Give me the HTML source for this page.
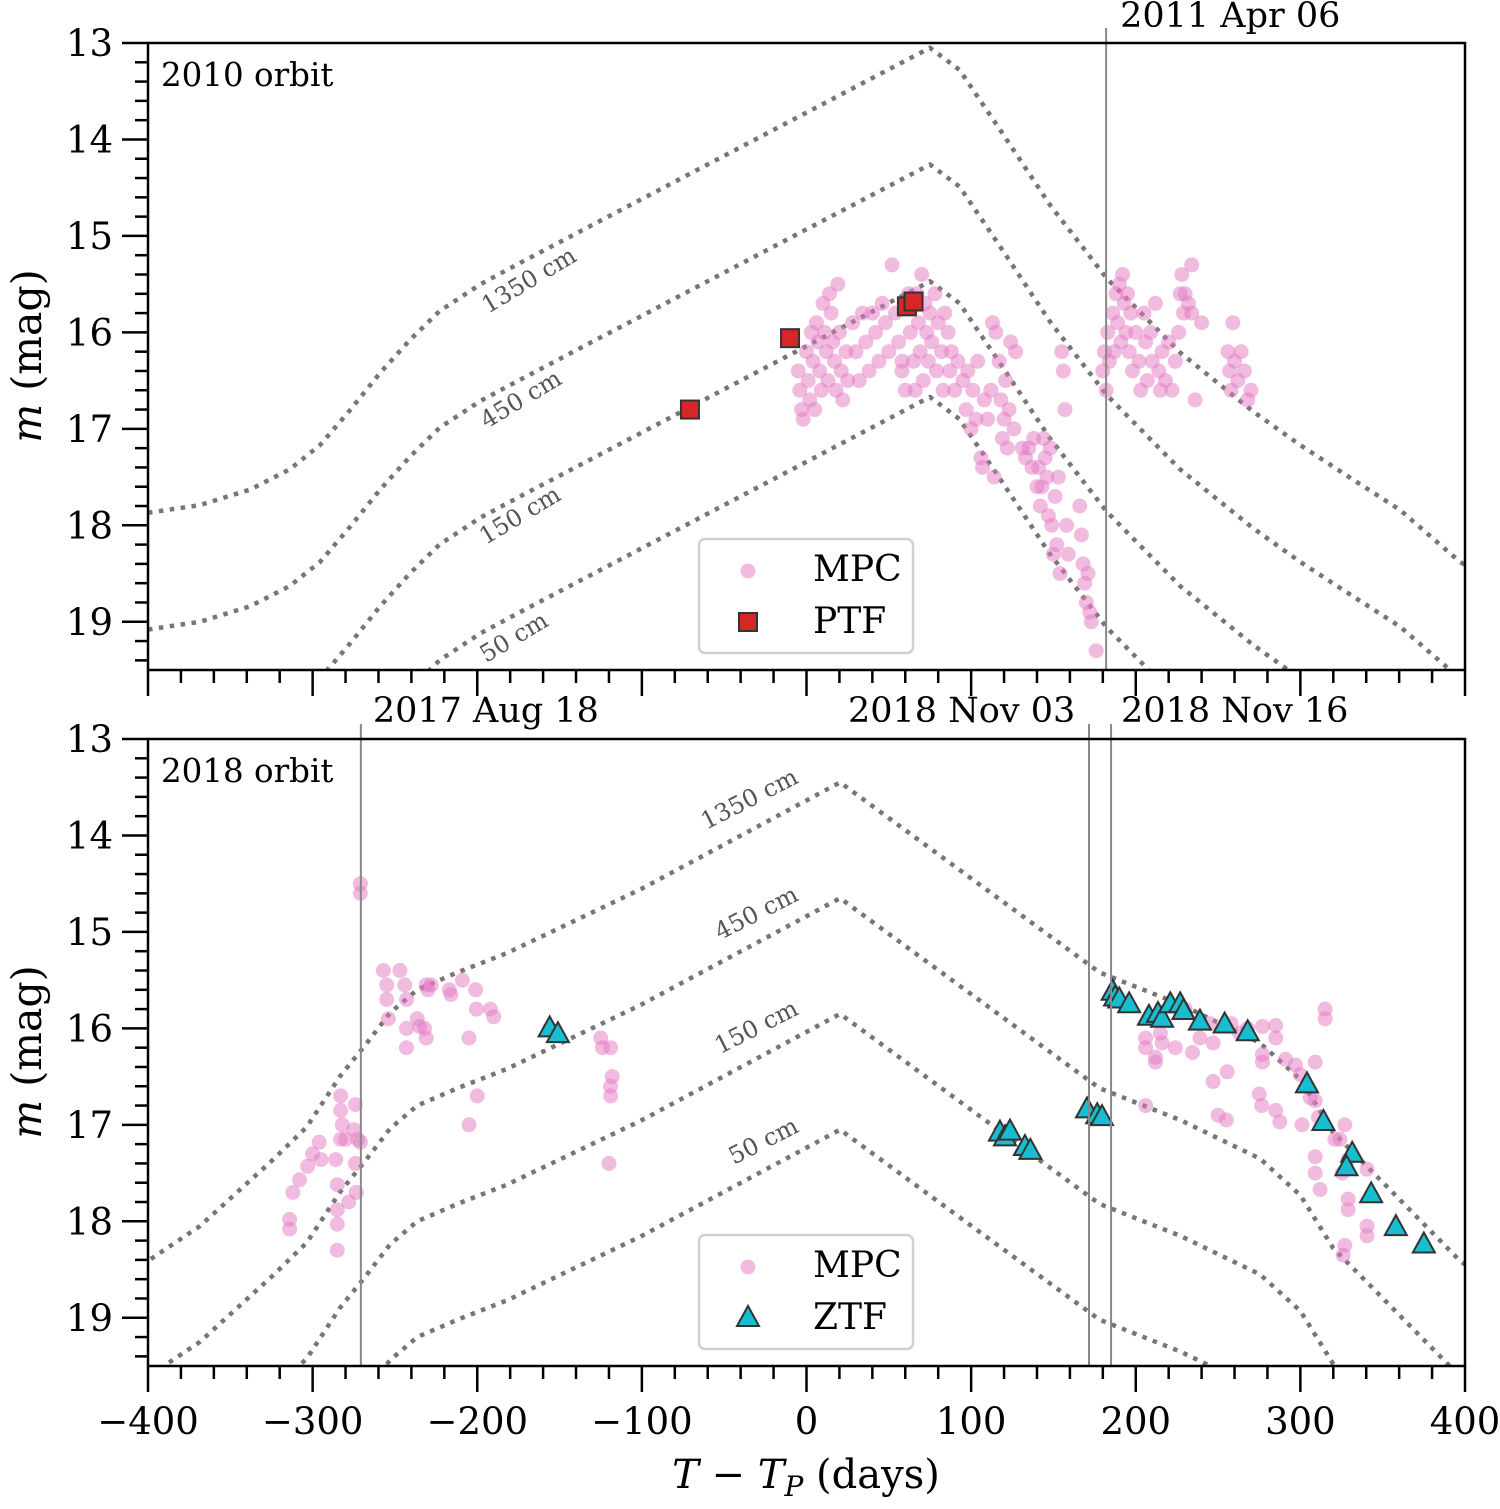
<!DOCTYPE html>
<html><head><meta charset="utf-8"><style>
html,body{margin:0;padding:0;background:#fff;overflow:hidden;width:1500px;height:1509px}
svg{display:block;font-family:"DejaVu Serif","Liberation Serif",serif;overflow:hidden}
</style></head><body>
<svg id="chart" xmlns="http://www.w3.org/2000/svg" width="1500" height="1509" viewBox="0 0 1500 1509">
<defs>
<clipPath id="clipTop"><rect x="148" y="43" width="1317" height="627"/></clipPath>
<clipPath id="clipBot"><rect x="148" y="739" width="1317" height="627"/></clipPath>
</defs>
<rect width="1500" height="1509" fill="#fff"/>
<g id="top"></g>
<g id="bot"></g>
</svg>
<script>
// ---- data ----
const xTicks = [-400,-300,-200,-100,0,100,200,300,400];
const xTickLabels = ["\u2212400","\u2212300","\u2212200","\u2212100","0","100","200","300","400"];
const yTicks = [13,14,15,16,17,18,19];
const sizeLabels = ["1350 cm","450 cm","150 cm","50 cm"];
const topOffsets = [0,1.21,2.42,3.62];
const botOffsets = [0,1.2,2.4,3.6];
const topCurveDays = [-400,-368.5,-338,-314,-295.6,-277,-259,-241,-223,-198,-174,75,93,117.6,148,182.4,227,271.3,300,330.5,360.5,397,420];
const topCurveMags = [17.87,17.79,17.63,17.42,17.17,16.80,16.42,16.08,15.78,15.50,15.28,13.05,13.28,13.90,14.68,15.44,16.21,16.82,17.17,17.51,17.84,18.38,18.6];
const botCurveDays = [-410,-400,-368.5,-324,-303.5,-283.5,-267,-253,-236.5,-212,-182,-101,20.4,178,227,275.5,300,320,348.5,397,420];
const botCurveMags = [18.5,18.41,18.05,17.36,17.02,16.50,16.15,15.84,15.60,15.42,15.22,14.56,13.45,15.42,15.75,16.15,16.53,17.08,17.57,18.41,18.7];
const topVLines = [182];
const topVLabels = ["2011 Apr 06"];
const botVLines = [-270.7,171.6,185];
const botVLabels = ["2017 Aug 18","2018 Nov 03","2018 Nov 16"];
const topMPC = [[-5,16.4],[-4,16.6],[-3,16.8],[-2,16.9],[0,16.2],[1,16.5],[2,16.7],[3,16.0],[4,16.3],[5,16.8],[6,15.9],[7,16.1],[8,16.4],[9,16.6],[10,15.7],[11,16.0],[12,16.2],[13,16.5],[14,15.6],[15,15.8],[16,16.1],[17,16.3],[18,16.6],[19,15.5],[20,16.0],[21,16.4],[22,16.7],[24,16.2],[25,16.5],
[28,15.9],[30,16.2],[32,16.5],[34,15.8],[36,16.1],[38,16.4],[40,15.8],[42,16.0],[44,16.3],[46,15.7],[48,15.9],[50,16.2],[52,15.3],[54,15.8],[56,16.1],[58,16.3],[60,16.6],[62,15.6],[58,16.4],
[63,16.0],[65,16.3],[66,16.6],[67,15.6],[68,15.9],[69,16.2],[70,15.4],[71,16.5],[72,15.7],[73,16.0],[74,16.3],[75,15.8],[76,16.1],[78,15.6],[79,16.4],[80,15.9],[82,16.2],[83,16.6],[84,15.8],[86,16.0],[87,16.4],[88,16.2],[90,16.6],[92,16.3],
[95,16.5],[97,16.8],[98,16.4],[100,17.0],[101,16.6],[103,16.9],[104,16.3],[106,17.3],[107,17.4],[108,16.7],[110,16.9],[112,16.6],[113,15.9],[114,17.5],[115,16.0],[117,16.3],[118,16.7],[119,17.1],[120,16.9],[121,16.5],[122,17.2],[123,16.8],[124,16.1],[126,17.0],[127,16.2],
[131,17.2],[133,17.3],[135,17.2],[137,17.4],[138,17.1],[140,17.6],[141,17.4],[142,17.8],[143,17.6],[144,17.1],[145,17.3],[146,17.5],[147,17.9],[148,17.2],[149,18.0],[150,18.3],[151,17.7],[152,18.2],[153,17.5],[154,18.5],[155,16.2],[156,16.4],[157,16.8],[158,18.0],[159,18.3],
[166,17.8],[167,18.1],[168,18.4],[169,18.6],[170,18.8],[171,18.5],[172,18.9],[173,19.0],[176,19.3],
[180,16.4],[181,16.2],[182,16.6],[183,16.0],[184,16.3],[186,15.8],[187,16.2],[188,15.6],[189,15.9],[190,15.5],[191,16.1],[192,15.4],[193,15.7],[194,16.0],[195,15.6],[196,16.2],[197,15.8],[198,16.4],[200,16.0],[202,16.3],[203,16.6],[205,15.8],[206,16.1],[207,16.5],[209,16.0],[210,16.3],[212,15.7],[214,16.4],[215,16.6],[216,16.2],[218,16.5],[220,16.1],[222,16.6],[224,16.3],[226,16.0],[227,15.6],[228,15.4],[229,15.8],[230,15.6],[232,15.7],[234,15.8],[236,16.7],[240,15.9],[234,15.3],
[256,16.2],[257,16.4],[258,16.6],[259,15.9],[260,16.3],[262,16.5],[264,16.2],[266,16.4],[268,16.7],[270,16.6]];
const topPTF = [[-70.8,16.80],[-10,16.06],[61,15.73],[65,15.68]];
const botMPC = [[-314,17.98],[-314,18.08],[-312,17.7],[-308,17.57],[-303,17.43],[-300,17.3],[-296,17.18],[-295,17.36],[-286,17.36],[-285,17.62],[-285,17.88],[-285,18.03],[-285,18.3],[-283,16.7],[-283,16.85],[-283,17.15],[-282,17.0],[-280,17.15],[-278,17.8],[-275,17.05],[-274,16.79],[-274,17.4],[-273.5,17.7],[-272.5,17.15],[-271,17.18],[-271,14.5],[-271,14.6],
[-257,15.4],[-255,15.55],[-255,15.7],[-254,15.9],[-247,15.4],[-244,15.55],[-243,16.0],[-243,16.2],[-243,15.7],[-236.5,15.9],[-235,15.98],[-232,16.0],[-231,16.1],[-231,15.55],[-230,15.6],[-228,15.55],[-217,15.6],[-216,15.65],[-205,16.1],[-205,17.0],[-201,15.6],[-200.5,15.8],[-200,16.7],[-192,15.8],[-190,15.88],[-209,15.5],
[-125,16.1],[-124,16.2],[-119,16.2],[-118,16.5],[-119,16.6],[-119,16.7],[-120,17.4],[-156,16.0],
[206,16.1],[206,16.2],[212,16.3],[212,16.35],[216,16.15],[234.5,16.25],[247,16.55],[255.5,16.45],[250,16.9],[255,16.95],[206,16.8],[224,16.2],[239,16.1],[247,16.15],[263,16.05],[277,16.27],[277,16.35],[275,16.68],[276.5,16.8],[285,16.85],[287.5,16.97],[301,17.0],[277,15.98],[285,15.97],[285,16.1],[291,16.32],[297,16.38],[300,16.48],[306,16.72],[309,16.75],[311,16.92],[315,15.8],[315,15.9],[309,16.35],[309,17.33],[309,17.5],[312,17.67],[321,17.15],[329,17.36],[329,17.77],[329,17.88],[327,18.25],[326,18.35],[340.5,18.05],[340.5,18.15],[340.5,17.46],[327,17.0],[324,17.15],[325.5,17.5],[215,16.05],[230,15.8],[245,15.95],[258,15.95],[268,16.0]];
const botZTF = [[-156,16.0],[-151,16.06],[117.5,17.08],[120.6,17.13],[123.6,17.07],[132.7,17.23],[136,17.27],[170.4,16.84],[176.6,16.9],[179.5,16.92],[186,15.62],[187.5,15.68],[190,15.7],[196,15.75],[208,15.88],[213.5,15.85],[216,15.9],[221,15.75],[227,15.75],[229,15.82],[239,15.93],[254,15.96],[268,16.04],[304,16.58],[314,16.97],[331.5,17.3],[328,17.44],[343,17.72],[358,18.06],[375,18.24]];

// ---- helpers ----
const NS="http://www.w3.org/2000/svg";
function mk(tag,attrs,parent,text){const e=document.createElementNS(NS,tag);for(const k in attrs)e.setAttribute(k,attrs[k]);if(text!==undefined)e.textContent=text;parent.appendChild(e);return e;}
const X0=148,X1=1465;
const xs=d=>X0+(d+400)/800*(X1-X0);

function panel(g,top,opts){
  const bottom=top+627;
  const ys=m=>top+(m-13)/6.5*627;
  const clip=mk('g',{'clip-path':'url(#'+opts.clip+')'},g);
  
  
  opts.offsets.forEach((off,i)=>{
    const pts=opts.cd.map((d,j)=>xs(d).toFixed(1)+','+ys(opts.cm[j]+off).toFixed(1)).join(' ');
    const pl=mk('polyline',{points:pts,fill:'none',stroke:'#6f6f6f','stroke-width':4.5,'stroke-dasharray':'4.5 6.5','stroke-opacity':0.95,'stroke-linejoin':'round'},clip);
    
    
  });
  opts.lab.forEach((l,i)=>{
    const t=mk('text',{x:l[0],y:l[1],'font-size':24,fill:'#555','text-anchor':'middle',transform:'rotate('+l[2]+' '+l[0]+' '+l[1]+')'},g,sizeLabels[i]);
    
    
  });
  opts.vl.forEach((d,i)=>{
    const x=xs(d);
    const ln=mk('line',{x1:x,x2:x,y1:opts.vtop,y2:bottom,stroke:'#888','stroke-width':2},g);
    
    
    const t=mk('text',{x:x+opts.vlx[i],y:opts.vly,'font-size':35,fill:'#000'},g,opts.vlab[i]);
    
    
  });
  opts.mpc.forEach(p=>{
    const c=mk('circle',{cx:xs(p[0]).toFixed(1),cy:ys(p[1]).toFixed(1),r:7.5,fill:'#e377c2','fill-opacity':0.5},clip);
    
    
  });
  if(opts.ptf) opts.ptf.forEach(p=>{
    const r=mk('rect',{x:xs(p[0])-9,y:ys(p[1])-9,width:18,height:18,fill:'#d62728',stroke:'#333','stroke-width':2},clip);
    
    
  });
  if(opts.ztf) opts.ztf.forEach(p=>{
    const x=xs(p[0]),y=ys(p[1]);
    const r=mk('polygon',{points:`${x},${y-12} ${x-11},${y+8} ${x+11},${y+8}`,fill:'#17becf',stroke:'#333','stroke-width':2},clip);
    
    
  });
  const fr=mk('rect',{x:X0,y:top,width:X1-X0,height:627,fill:'none',stroke:'#000','stroke-width':2.5},g);
  
  
  for(let k=0;k<=32;k++){
    const m=13+k*0.2; const y=ys(m); if(y>bottom+0.5) break;
    const major=(k%5===0);
    mk('line',{x1:X0,x2:X0-(major?26:13),y1:y,y2:y,stroke:'#000','stroke-width':2.5},g);
  }
  yTicks.forEach(m=>{
    const t=mk('text',{x:113,y:ys(m)+13,'font-size':37,'text-anchor':'end'},g,String(m));
    
    
  });
  for(let d=-400;d<=400;d+=20){
    const major=(d%100===0);
    mk('line',{x1:xs(d),x2:xs(d),y1:bottom,y2:bottom+(major?26:13),stroke:'#000','stroke-width':2.5},g);
  }
  if(opts.xlabels) xTicks.forEach((d,i)=>{
    const t=mk('text',{x:xs(d),y:bottom+68,'font-size':37,'text-anchor':'middle'},g,xTickLabels[i]);
    
    
  });
  const cy=top+313;
  const yt=mk('text',{x:0,y:0,'font-size':41,'text-anchor':'middle',transform:`translate(41 ${cy}) rotate(-90)`},g);
  
  
  mk('tspan',{'font-style':'italic'},yt,'m');
  mk('tspan',{},yt,' (mag)');
  const pt=mk('text',{x:161,y:top+43,'font-size':32.5},g,opts.title);
  
  
  const lg=mk('g',{},g);
  
  
  mk('rect',{x:699,y:top+496,width:214,height:114,rx:6,fill:'#fff','fill-opacity':0.85,stroke:'#d0d0d0','stroke-width':2.5},lg);
  const c=mk('circle',{cx:748,cy:top+528,r:7.5,fill:'#e377c2','fill-opacity':0.5},lg);
  
  
  const t1=mk('text',{x:813,y:top+538,'font-size':36},lg,'MPC');
  
  
  if(opts.ptf){mk('rect',{x:739,y:top+570,width:18,height:18,fill:'#d62728',stroke:'#333','stroke-width':2},lg);}
  else{mk('polygon',{points:`748,${top+567} 737,${top+587} 759,${top+587}`,fill:'#17becf',stroke:'#333','stroke-width':2},lg);}
  const t2=mk('text',{x:813,y:top+590,'font-size':36},lg,opts.ptf?'PTF':'ZTF');
  
  
}
panel(document.getElementById('top'),43,{clip:'clipTop',offsets:topOffsets,cd:topCurveDays,cm:topCurveMags,
  lab:[[533,287,-31],[525,406,-31],[524,522,-31],[518,644,-31]],
  vl:topVLines,vlab:topVLabels,vtop:28,vlx:[14],vly:27,mpc:topMPC,ptf:topPTF,title:'2010 orbit',xlabels:false});
panel(document.getElementById('bot'),739,{clip:'clipBot',offsets:botOffsets,cd:botCurveDays,cm:botCurveMags,
  lab:[[753,806,-27],[760,920,-27],[760,1034,-27],[767,1148,-27]],
  vl:botVLines,vlab:botVLabels,vtop:724,vlx:[12,-241,10],vly:722,mpc:botMPC,ztf:botZTF,title:'2018 orbit',xlabels:true});
const svg=document.getElementById('chart');
const xt=mk('text',{x:806,y:1488,'font-size':40,'text-anchor':'middle'},svg);


mk('tspan',{'font-style':'italic'},xt,'T');
mk('tspan',{},xt,' \u2212 ');
mk('tspan',{'font-style':'italic'},xt,'T');
mk('tspan',{'font-style':'italic','font-size':28,dy:8},xt,'P');
mk('tspan',{dy:-8},xt,' (days)');
</script>
</body></html>
